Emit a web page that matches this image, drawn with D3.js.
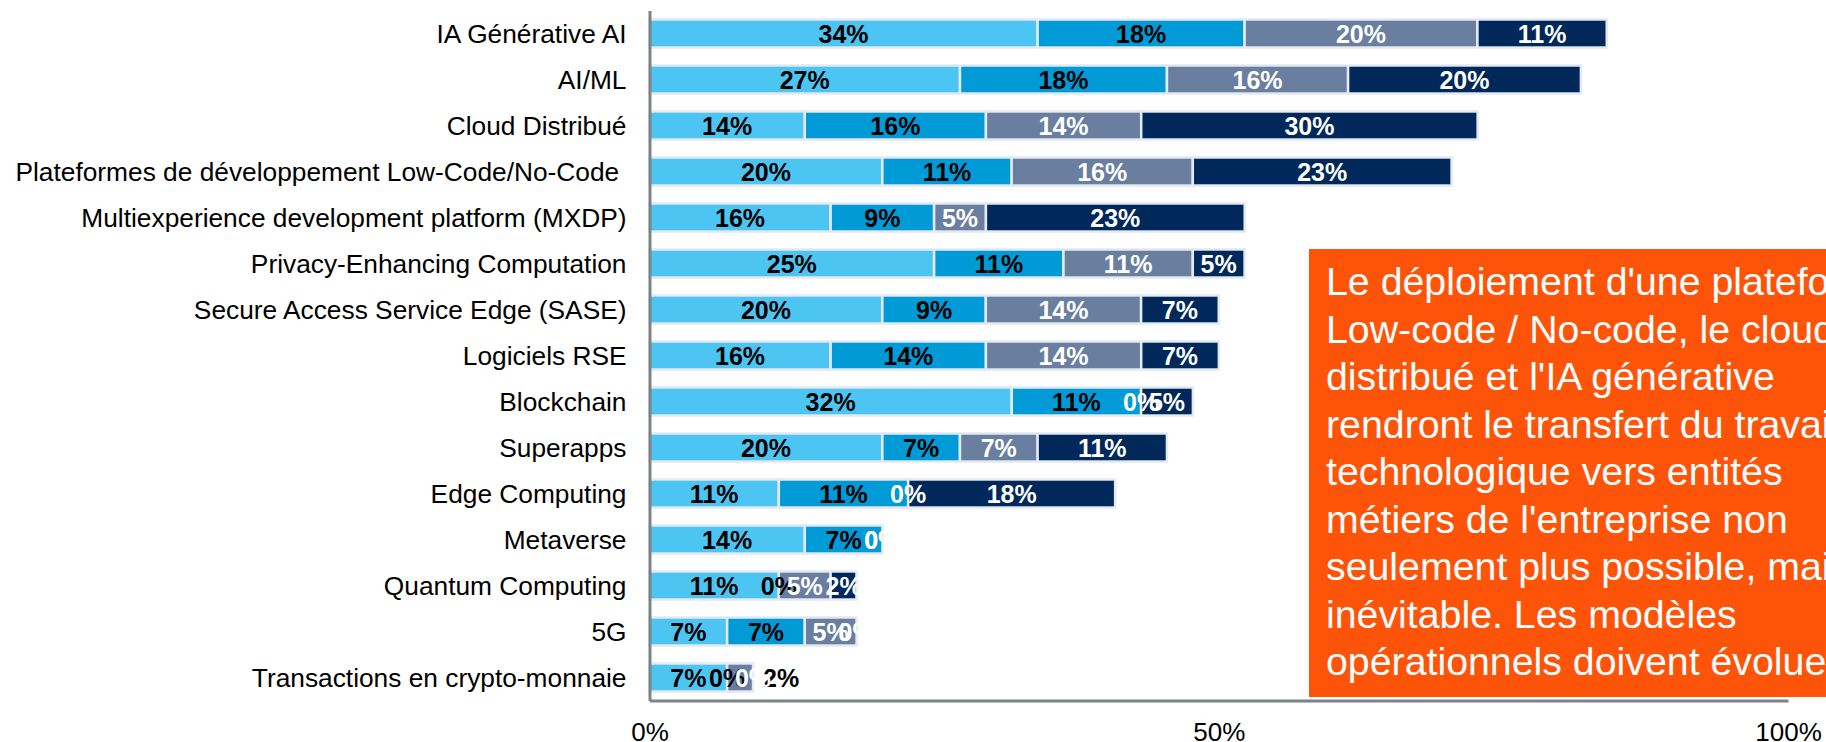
<!DOCTYPE html>
<html lang="fr">
<head>
<meta charset="utf-8">
<title>Technologies émergentes</title>
<script src="https://cdn.jsdelivr.net/npm/d3@7/dist/d3.min.js"></script>
<style>
  html, body { margin: 0; padding: 0; background: #ffffff; overflow: hidden; }
  svg { display: block; font-family: "Liberation Sans", Arial, sans-serif; }
  .cat-axis text { white-space: pre; }
</style>
</head>
<body>
<svg id="chart" width="1826" height="742"></svg>
<script>
// Technologies, top to bottom
const categories = [
  "IA Générative AI",
  "AI/ML",
  "Cloud Distribué",
  "Plateformes de développement Low-Code/No-Code ",
  "Multiexperience development platform (MXDP)",
  "Privacy-Enhancing Computation",
  "Secure Access Service Edge (SASE)",
  "Logiciels RSE",
  "Blockchain",
  "Superapps",
  "Edge Computing",
  "Metaverse",
  "Quantum Computing",
  "5G",
  "Transactions en crypto-monnaie"
];

// Share of respondents (%) for each of the four stacked segments
const serie1 = [34.09, 27.27, 13.64, 20.45, 15.91, 25.00, 20.45, 15.91, 31.82, 20.45, 11.36, 13.64, 11.36, 6.82, 6.82];
const serie2 = [18.18, 18.18, 15.91, 11.36,  9.09, 11.36,  9.09, 13.64, 11.36,  6.82, 11.36,  6.82,  0.00, 6.82, 0.00];
const serie3 = [20.45, 15.91, 13.64, 15.91,  4.55, 11.36, 13.64, 13.64,  0.00,  6.82,  0.00,  0.00,  4.55, 4.55, 2.27];
const serie4 = [11.36, 20.45, 29.55, 22.73, 22.73,  4.55,  6.82,  6.82,  4.55, 11.36, 18.18,  0.00,  2.27, 0.00, 0.00];

const seriesKeys = ["serie1", "serie2", "serie3", "serie4"];
const seriesColors = ["#4cc5f2", "#009bd6", "#6a7ea0", "#00285a"];
const labelColors = ["#000000", "#000000", "#ffffff", "#ffffff"];

const xTicks = [0, 50, 100];

const calloutLines = [
  "Le déploiement d'une plateforme",
  "Low-code / No-code, le cloud",
  "distribué et l'IA générative",
  "rendront le transfert du travail",
  "technologique vers entités",
  "métiers de l'entreprise non",
  "seulement plus possible, mais",
  "inévitable. Les modèles",
  "opérationnels doivent évoluer"
];

// Table consumed by d3.stack
const table = categories.map((c, i) => ({
  category: c,
  serie1: serie1[i],
  serie2: serie2[i],
  serie3: serie3[i],
  serie4: serie4[i]
}));
const stacked = d3.stack().keys(seriesKeys)(table);

const svg = d3.select("#chart");
const plot = { left: 649.5, right: 1788, top: 10.5, bottom: 700.5 };

const x = d3.scaleLinear().domain([0, 100]).range([plot.left, plot.right]);
const y = d3.scaleBand()
  .domain(categories)
  .range([plot.top, plot.bottom])
  .paddingInner(0.39)
  .paddingOuter(0.195);

const fmt = d3.format(".0f");

// Stacked segments
const layers = svg.append("g").attr("class", "bars")
  .selectAll("g")
  .data(stacked)
  .join("g")
  .attr("fill", (d, i) => seriesColors[i]);

layers.selectAll("rect")
  .data(d => d)
  .join("rect")
  .attr("x", d => x(d[0]))
  .attr("y", d => y(d.data.category))
  .attr("width", d => x(d[1]) - x(d[0]))
  .attr("height", y.bandwidth())
  .attr("stroke", "#e4eaf1")
  .attr("stroke-width", 2.5)
  .filter(d => d[1] - d[0] === 0)
  .attr("stroke", "none");

// Value labels, centred in each segment
const labelLayers = svg.append("g").attr("class", "values")
  .selectAll("g")
  .data(stacked)
  .join("g")
  .attr("fill", (d, i) => labelColors[i]);

labelLayers.selectAll("text")
  .data(d => d)
  .join("text")
  .attr("x", d => (x(d[0]) + x(d[1])) / 2)
  .attr("y", d => y(d.data.category) + y.bandwidth() / 2)
  .attr("dy", "0.36em")
  .attr("text-anchor", "middle")
  .style("font-size", "25px")
  .style("font-weight", "bold")
  .text(d => fmt(d[1] - d[0]) + "%");

// The crypto bar's third segment is too narrow for its label: set it just past the bar end
const lastCategory = categories[categories.length - 1];
labelLayers.filter(d => d.key === "serie3")
  .selectAll("text")
  .filter(d => d.data.category === lastCategory)
  .attr("x", d => x(d[1]) + 10)
  .attr("text-anchor", "start")
  .attr("fill", "#000000");

// Category axis
const yAxis = svg.append("g")
  .attr("class", "cat-axis")
  .attr("transform", `translate(${plot.left},0)`)
  .call(d3.axisLeft(y).tickSize(0).tickPadding(23));
yAxis.select(".domain").attr("stroke", "#7b8386").attr("stroke-width", 3);
yAxis.selectAll("text")
  .attr("dy", "0.36em")
  .style("font-size", "26.3px")
  .attr("fill", "#000");

// Callout box
const callout = svg.append("g").attr("class", "callout");
callout.append("rect")
  .attr("x", 1309)
  .attr("y", 249)
  .attr("width", 620)
  .attr("height", 448)
  .attr("fill", "#fe540a");
callout.append("text")
  .attr("x", 1326)
  .attr("y", 295)
  .attr("fill", "#ffffff")
  .style("font-size", "39.3px")
  .selectAll("tspan")
  .data(calloutLines)
  .join("tspan")
  .attr("x", 1326)
  .attr("dy", (d, i) => i === 0 ? 0 : 47.5)
  .text(d => d);

// Percentage axis
const xAxis = svg.append("g")
  .attr("class", "pct-axis")
  .attr("transform", `translate(0,${plot.bottom})`)
  .call(d3.axisBottom(x).tickValues(xTicks).tickFormat(d => d + "%").tickSize(0).tickPadding(22));
xAxis.select(".domain").attr("stroke", "#7b8386").attr("stroke-width", 3);
xAxis.selectAll("text")
  .style("font-size", "26px")
  .attr("fill", "#000");
</script>
</body>
</html>
